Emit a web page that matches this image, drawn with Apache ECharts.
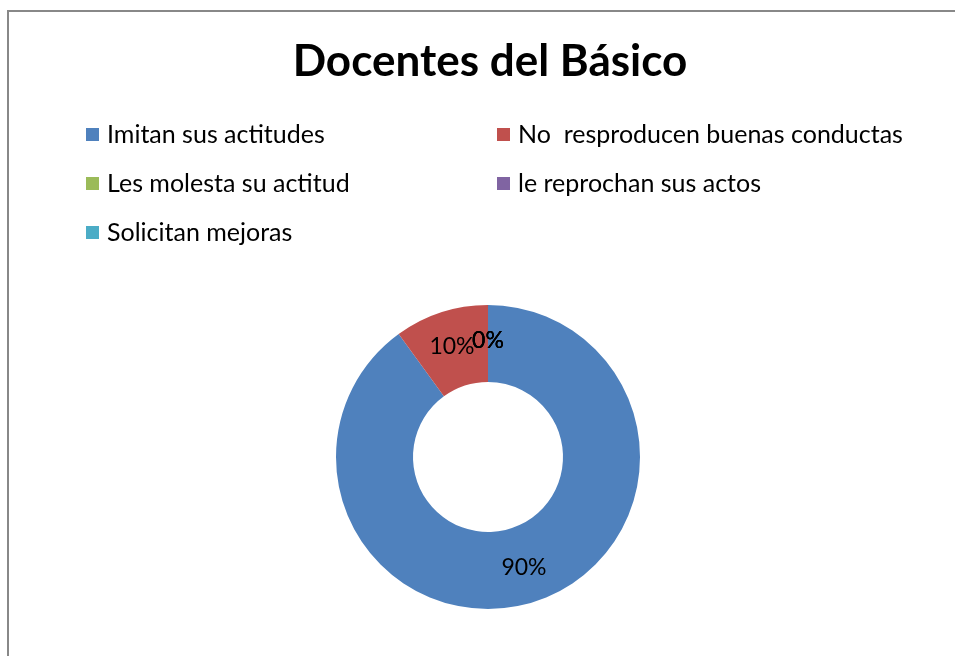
<!DOCTYPE html>
<html>
<head>
<meta charset="utf-8">
<script src="https://cdn.jsdelivr.net/npm/echarts@6/dist/echarts.min.js"></script>
<style>
html,body{margin:0;padding:0;background:#fff;}
#chart{width:955px;height:656px;}
</style>
</head>
<body>
<div id="chart"></div>
<script>
const titleText = 'Docentes del Básico';
const categories = ['Imitan sus actitudes', 'No  resproducen buenas conductas', 'Les molesta su actitud', 'le reprochan sus actos', 'Solicitan mejoras'];
const values = [90, 10, 0, 0, 0];
const colors = ['#4F81BD', '#C0504D', '#9BBB59', '#8064A2', '#4BACC6'];

const FONT = 'Lato';
const chart = echarts.init(document.getElementById('chart'), null, {renderer: 'canvas'});
const legendBase = {
  orient: 'vertical',
  padding: 0,
  itemWidth: 13,
  itemHeight: 13,
  itemGap: 24,
  icon: 'rect',
  selectedMode: false,
  textStyle: {fontFamily: FONT, fontSize: 25, lineHeight: 24, color: '#000', padding: [0, 0, 0, 3]}
};
chart.setOption({
  animation: false,
  color: colors,
  title: {
    text: titleText,
    left: 485,
    textAlign: 'center',
    top: 35,
    textStyle: {fontFamily: FONT, fontWeight: 'bold', fontSize: 44, color: '#000'}
  },
  legend: [
    Object.assign({}, legendBase, {left: 86, top: 122, data: [categories[0], categories[2], categories[4]]}),
    Object.assign({}, legendBase, {left: 497, top: 122, data: [categories[1], categories[3]]})
  ],
  graphic: [{
    type: 'rect',
    shape: {x: 8, y: 11, width: 1200, height: 1200},
    style: {fill: 'none', stroke: '#888888', lineWidth: 2},
    silent: true
  }],
  series: [{
    type: 'pie',
    radius: [75, 152],
    center: [488, 457],
    startAngle: 90,
    clockwise: true,
    avoidLabelOverlap: false,
    labelLayout: {hideOverlap: false},
    label: {
      show: true,
      position: 'inside',
      fontFamily: FONT,
      fontSize: 23,
      color: '#000',
      formatter: p => Math.round(p.percent) + '%'
    },
    labelLine: {show: false},
    itemStyle: {borderWidth: 0},
    emphasis: {disabled: true},
    data: categories.map((c, i) => ({name: c, value: values[i]}))
  }]
});
</script>
</body>
</html>
